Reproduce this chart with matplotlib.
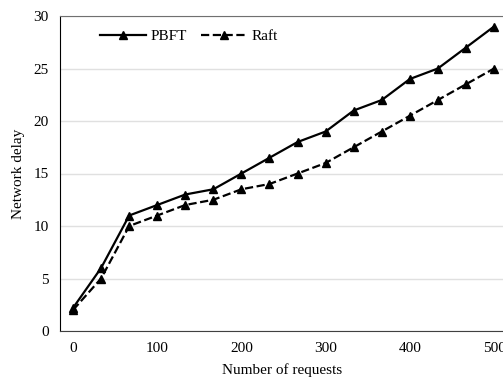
import matplotlib.pyplot as plt

plt.rcParams['font.family'] = ['Liberation Serif', 'DejaVu Serif']

# datos
requests = [0, 33.3, 66.7, 100, 133.3, 166.7, 200, 233.3, 266.7, 300,
            333.3, 366.7, 400, 433.3, 466.7, 500]
pbft = [2.2, 6, 11, 12, 13, 13.5, 15, 16.5, 18, 19, 21, 22, 24, 25, 27, 29]
raft = [2, 5, 10, 11, 12, 12.5, 13.5, 14, 15, 16, 17.5, 19, 20.5, 22, 23.5, 25]

fig = plt.figure(figsize=(5.03, 3.81), dpi=100)
ax = fig.add_axes([60 / 503, 50 / 381, 445 / 503, 315 / 381])

ax.plot(requests, pbft, '-', color='black', lw=1.6, marker='^', ms=6, label='PBFT')
ax.plot(requests, raft, '--', color='black', lw=1.6, marker='^', ms=6, label='Raft')

ax.set_xlim(-15.5, 513)
ax.set_ylim(0, 30)
ax.set_xticks([0, 100, 200, 300, 400, 500])
ax.set_yticks([0, 5, 10, 15, 20, 25, 30])
ax.tick_params(length=0, labelsize=11, pad=8)
ax.grid(axis='y', color='#e0e0e0', lw=1)
ax.set_axisbelow(True)
ax.spines['right'].set_visible(False)
ax.spines['top'].set_color('#707070')
ax.spines['left'].set_color('black')
ax.spines['bottom'].set_color('#404040')

ax.set_xlabel('Number of requests', fontsize=11, labelpad=6)
ax.set_ylabel('Network delay', fontsize=11, labelpad=6)
ax.legend(loc='upper left', bbox_to_anchor=(0.06, 1.0), ncol=2, frameon=False,
          fontsize=11, handlelength=3, columnspacing=0.9, handletextpad=0.3)

plt.savefig('out.png', dpi=100)
